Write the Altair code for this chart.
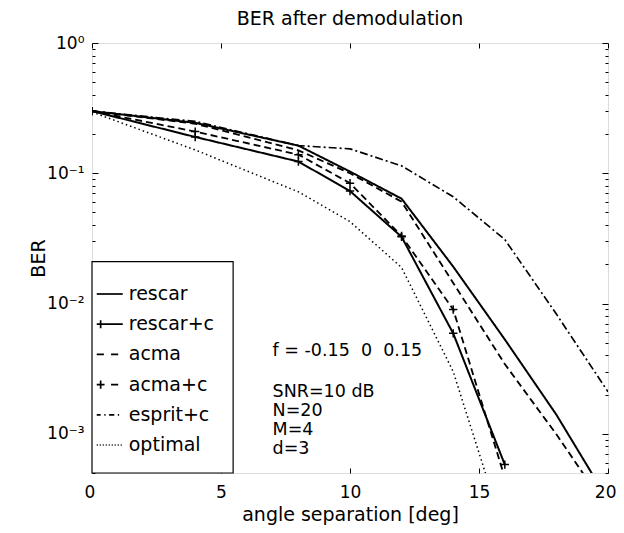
import altair as alt
import pandas as pd

# ---------------- data ----------------
series_names = ["rescar", "rescar+c", "acma", "acma+c", "esprit+c", "optimal"]
series_style = ["solid", "solid", "dashed", "dashed", "dashdot", "dotted"]

x_full = [0, 4, 8, 10, 12, 14, 16, 18, 20]
x_short = [0, 4, 8, 10, 12, 14, 16]

rescar = [0.30, 0.244, 0.163, 0.103, 0.0638, 0.0192, 0.0053, 0.0014, 0.00031]
rescar_c = [0.30, 0.19, 0.123, 0.073, 0.0325, 0.0059, 0.00058]
acma = [0.30, 0.240, 0.150, 0.100, 0.0605, 0.0144, 0.00343, 0.00099, 0.00026]
acma_c = [0.30, 0.209, 0.139, 0.084, 0.033, 0.0090, 0.00046]
esprit_c = [0.30, 0.25, 0.163, 0.154, 0.114, 0.066, 0.031, 0.0083, 0.0021]
optimal = [0.295, 0.151, 0.072, 0.0425, 0.0189, 0.0030, 0.00017]

x_ticks = [0, 5, 10, 15, 20]
y_major = [1e-3, 1e-2, 1e-1, 1.0]
y_major_labels = ["10⁻³", "10⁻²", "10⁻¹", "10⁰"]
y_minor = [m * 10.0 ** k for k in (-4, -3, -2, -1) for m in range(2, 10)
           if 5e-4 <= m * 10.0 ** k <= 1]

notes = ["f = -0.15\u00a0\u00a00\u00a0\u00a00.15", "SNR=10 dB", "N=20", "M=4", "d=3"]
notes_y = [0.00429, 0.00208, 0.00149, 0.00106, 0.00076]
notes_x = 7.0

X_DOMAIN = [0, 20]
Y_DOMAIN = [5e-4, 1]
LEGEND_BOX = {"x": 0, "x2": 5.47, "y": 5e-4, "y2": 0.021}

# ---------------- build tables ----------------
style_of = dict(zip(series_names, series_style))
rows = []
for name, xs, ys in [("rescar", x_full, rescar), ("rescar+c", x_short, rescar_c),
                     ("acma", x_full, acma), ("acma+c", x_short, acma_c),
                     ("esprit+c", x_full, esprit_c), ("optimal", x_short, optimal)]:
    for xv, yv in zip(xs, ys):
        rows.append({"series": name, "style": style_of[name], "x": xv, "y": yv})
df = pd.DataFrame(rows)
notes_df = pd.DataFrame({"text": notes, "x": [notes_x] * len(notes), "y": notes_y})
box_df = pd.DataFrame([LEGEND_BOX])

FONT = "DejaVu Sans"
style_names = ["solid", "dashed", "dashdot", "dotted"]
dash_range = [[1, 0], [7, 4], [8, 3, 2, 3], [1.5, 3]]
width_range = [2, 1.5, 1.2, 1.2]

PLUS = "M-1,0L1,0M0,-1L0,1"

def dotted_path():
    parts = []
    v = -1.0
    while v < 1.0:
        parts.append(f"M{v:.3f},0H{v + 0.08:.3f}")
        v += 0.23
    return "".join(parts)

legend_paths = [
    "M-1,0H1",
    "M-1,0H1M-0.7,-0.31V0.31",
    "M-1,0H-0.45M0.1,0H0.65",
    "M-1,0H-0.4M-0.7,-0.31V0.31M0.1,0H0.65",
    "M-1,0H-0.7M-0.42,0H-0.32M-0.05,0H0.35M0.62,0H0.72",
    dotted_path(),
]

xscale = alt.Scale(domain=X_DOMAIN, nice=False, zero=False)
yscale = alt.Scale(type="log", domain=Y_DOMAIN, nice=False)

label_expr = ("datum.value > 0.5 ? '%s' : datum.value > 0.05 ? '%s' : "
              "datum.value > 0.005 ? '%s' : '%s'") % (
    y_major_labels[3], y_major_labels[2], y_major_labels[1], y_major_labels[0])

common_axis = dict(grid=False, domain=False, tickColor="black", tickWidth=1,
                   labelColor="black", titleColor="black", labelFont=FONT,
                   titleFont=FONT, titleFontWeight="normal")

ax_bottom = alt.Axis(orient="bottom", values=x_ticks, offset=-5, tickSize=5,
                     labelFontSize=17, labelPadding=11, title="angle separation [deg]",
                     titleFontSize=19, titlePadding=5, labelFlush=True, labelFlushOffset=8,
                     **common_axis)
ax_top = alt.Axis(orient="top", values=x_ticks, offset=-5, tickSize=5, labels=False,
                  title=None, **common_axis)
ay_left = alt.Axis(orient="left", values=y_major, offset=-6, tickSize=6, labelExpr=label_expr,
                   labelFontSize=17, labelPadding=8, labelBaseline="middle",
                   title="BER", titleFontSize=19, titleAngle=270, titleX=-60, titleY=215,
                   titleBaseline="middle", titleAlign="center", **common_axis)
ay_right = alt.Axis(orient="right", values=y_major, offset=-6, tickSize=6, labels=False,
                    title=None, **common_axis)
ay_left_minor = alt.Axis(orient="left", values=y_minor, offset=-3, tickSize=3, labels=False,
                         title=None, **common_axis)
ay_right_minor = alt.Axis(orient="right", values=y_minor, offset=-3, tickSize=3, labels=False,
                          title=None, **common_axis)

lines = alt.Chart(df).mark_line(clip=True, color="black").encode(
    x=alt.X("x:Q", scale=xscale, axis=ax_bottom),
    y=alt.Y("y:Q", scale=yscale, axis=ay_left),
    strokeDash=alt.StrokeDash("style:N", scale=alt.Scale(domain=style_names, range=dash_range),
                              legend=None),
    strokeWidth=alt.StrokeWidth("style:O", scale=alt.Scale(domain=style_names, range=width_range),
                                legend=None),
    detail="series:N",
)

markers = alt.Chart(df).transform_filter(
    "datum.series == 'rescar+c' || datum.series == 'acma+c'"
).mark_point(shape=PLUS, size=70, filled=False, color="black", strokeWidth=1.5,
             opacity=1, clip=True).encode(
    x=alt.X("x:Q", scale=xscale, axis=ax_top),
    y=alt.Y("y:Q", scale=yscale, axis=ay_right),
)

box = alt.Chart(box_df).mark_rect(fill="white", stroke="black", strokeWidth=1.2).encode(
    x=alt.X("x:Q", scale=xscale, axis=None),
    x2="x2:Q",
    y=alt.Y("y:Q", scale=yscale, axis=ay_left_minor),
    y2="y2:Q",
)

texts = alt.Chart(notes_df).mark_text(align="left", baseline="middle", fontSize=17.5,
                                      font=FONT, color="black").encode(
    x=alt.X("x:Q", scale=xscale, axis=None),
    y=alt.Y("y:Q", scale=yscale, axis=ay_right_minor),
    text="text:N",
)

legend_layer = alt.Chart(df).transform_filter("false").mark_point(
    filled=False, color="black", strokeWidth=1.5, opacity=1).encode(
    x=alt.X("x:Q", scale=xscale, axis=None),
    y=alt.Y("y:Q", scale=yscale, axis=None),
    shape=alt.Shape("series:N", scale=alt.Scale(domain=series_names, range=legend_paths),
                    legend=alt.Legend(orient="none", legendX=3.75, legendY=237, title=None,
                                      labelFontSize=19, labelFont=FONT, labelColor="black",
                                      symbolSize=676, symbolStrokeWidth=1.7,
                                      symbolStrokeColor="black", symbolFillColor="transparent",
                                      rowPadding=6.2, padding=0, labelOffset=5,
                                      symbolOpacity=1)),
)

chart = alt.layer(lines, markers, box, texts, legend_layer).resolve_axis(
    x="independent", y="independent"
).properties(
    width=516, height=430,
    title=alt.Title("BER after demodulation", fontSize=19, font=FONT, fontWeight="normal",
                    color="black", anchor="middle", offset=5),
    autosize=alt.AutoSizeParams(type="none"),
    padding={"left": 84, "top": 35, "right": 8, "bottom": 52},
).configure_view(stroke="black", strokeWidth=1.3).configure(background="white")

chart.save("out.html", embed_options={"renderer": "svg", "actions": False})
